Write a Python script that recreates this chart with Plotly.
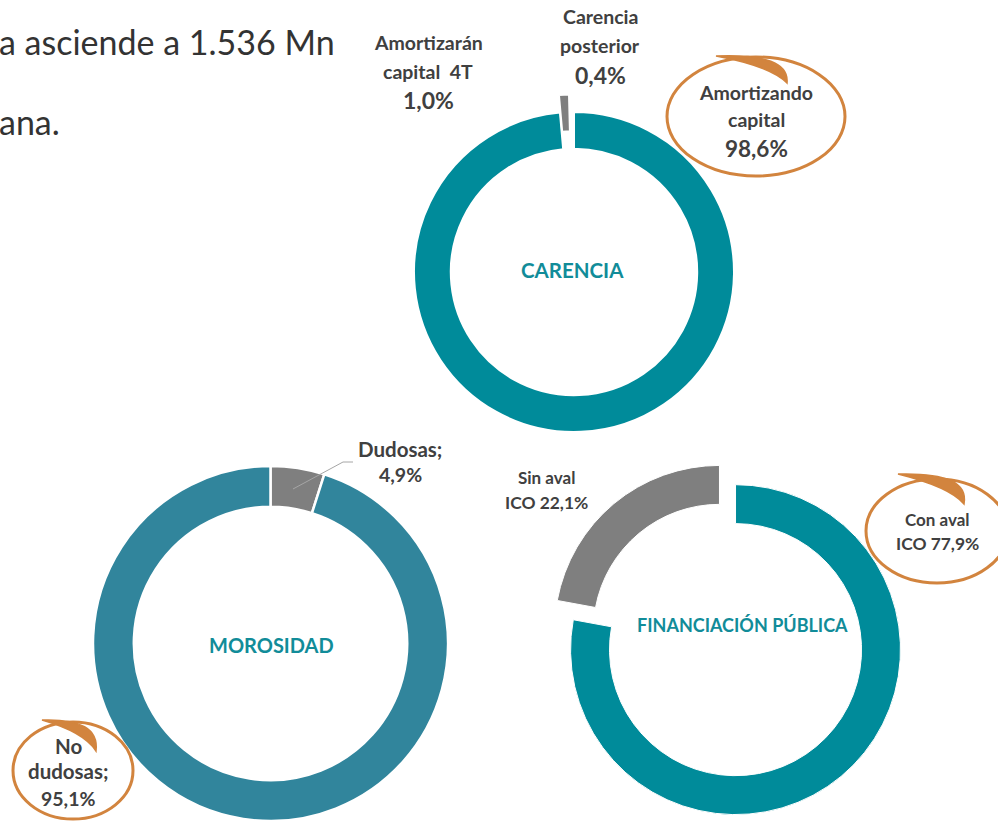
import plotly.graph_objects as go

W, H = 998, 821

# ---------------- data ----------------
carencia_labels = ["Amortizando capital", "Amortizarán capital 4T", "Carencia posterior"]
carencia_values = [98.6, 1.0, 0.4]

morosidad_labels = ["No dudosas", "Dudosas"]
morosidad_values = [95.1, 4.9]

financiacion_labels = ["Con aval ICO", "Sin aval ICO"]
financiacion_values = [77.9, 22.1]

TEAL = "#008B9A"
TEAL2 = "#31859C"
GRAY = "#7F7F7F"
ORANGE = "#D2843E"
TXT = "#404040"
FONT = "Lato"


def px(x):
    return x / W


def py(y):
    return 1 - y / H


def dom(cx, cy, half):
    return dict(x=[px(cx - half), px(cx + half)], y=[py(cy + half), py(cy - half)])


fig = go.Figure()

# CARENCIA donut
fig.add_trace(go.Pie(
    labels=carencia_labels, values=carencia_values, sort=False, direction="clockwise",
    rotation=0, hole=0.77, pull=[0, 0.11, 0],
    marker=dict(colors=[TEAL, GRAY, "#FFFFFF"], line=dict(color="white", width=2)),
    textinfo="none", domain=dom(574, 272, 160 * 1.11), showlegend=False,
))

# MOROSIDAD donut (gray slice first at 12 o'clock)
fig.add_trace(go.Pie(
    labels=morosidad_labels[::-1], values=morosidad_values[::-1], sort=False, direction="clockwise",
    rotation=0, hole=0.77,
    marker=dict(colors=[GRAY, TEAL2], line=dict(color="white", width=2.5)),
    textinfo="none", domain=dom(270.5, 643.5, 177.5), showlegend=False,
))

# FINANCIACIÓN PÚBLICA donut
fig.add_trace(go.Pie(
    labels=financiacion_labels, values=financiacion_values, sort=False, direction="clockwise",
    rotation=0, hole=0.764, pull=[0.076, 0.076],
    marker=dict(colors=[TEAL, GRAY], line=dict(color="white", width=1)),
    textinfo="none", domain=dom(727.5, 640, 177.5), showlegend=False,
))

annotations = []


def ann(text, x, y, size, bold=True, color=TXT, anchor="center"):
    t = f"<b>{text}</b>" if bold else text
    annotations.append(dict(
        text=t, x=px(x), y=py(y), xref="paper", yref="paper", showarrow=False,
        xanchor=anchor, yanchor="middle", font=dict(family=FONT, size=size, color=color),
    ))


# partial slide text
ann("a asciende a 1.536 Mn", -3, 41, 34, bold=False, color="#333333", anchor="left")
ann("ana.", -3, 121, 34, bold=False, color="#333333", anchor="left")

# Carencia labels
ann("Amortizarán", 428, 42, 19.5)
ann("capital  4T", 428, 71, 19.5)
ann("1,0%", 428, 100, 23)
ann("Carencia", 600, 17, 19.5)
ann("posterior", 600, 45, 19.5)
ann("0,4%", 600, 75, 23)
ann("Amortizando", 756, 92, 19.5)
ann("capital", 756, 120, 19.5)
ann("98,6%", 756, 149, 22.5)

# Morosidad labels
ann("Dudosas;", 400, 449, 20.5)
ann("4,9%", 400, 474, 19.5)
ann("No", 68, 746, 20.5)
ann("dudosas;", 68, 771, 20.5)
ann("95,1%", 68, 798, 19.5)

# Financiación labels
ann("Sin aval", 546, 477, 17)
ann("ICO 22,1%", 546, 502, 17.4)
ann("Con aval", 937, 519, 17)
ann("ICO 77,9%", 937, 543, 17.4)

# center titles
ann("CARENCIA", 572, 270, 20.5, color="#118C99")
ann("MOROSIDAD", 271, 645, 20, color="#118C99")
ann("FINANCIACIÓN PÚBLICA", 742, 625, 18, color="#118C99")

shapes = []


def ellipse(x0, y0, x1, y1):
    shapes.append(dict(type="circle", xref="paper", yref="paper",
                       x0=px(x0), x1=px(x1), y0=py(y1), y1=py(y0),
                       line=dict(color=ORANGE, width=3)))


def tail(A, B, C1, C2):
    p = (f"M {px(A[0])} {py(A[1])} Q {px(C1[0])} {py(C1[1])} {px(B[0])} {py(B[1])} "
         f"Q {px(C2[0])} {py(C2[1])} {px(A[0])} {py(A[1])} Z")
    shapes.append(dict(type="path", xref="paper", yref="paper", path=p,
                       fillcolor=ORANGE, line=dict(color=ORANGE, width=1.5)))


ellipse(667, 57, 845, 176)
tail((716, 56), (787, 83), (790, 53), (770, 66))
ellipse(866, 479, 1008, 583)
tail((898, 474), (964, 504), (970, 472), (950, 487))
ellipse(13, 722, 133, 819)
tail((42, 720), (96, 751), (100, 718), (84, 732))

# leader line for Dudosas
shapes.append(dict(type="path", xref="paper", yref="paper",
                   path=f"M {px(293)} {py(489)} L {px(343)} {py(462)} L {px(353)} {py(462)}",
                   line=dict(color="#A6A6A6", width=1)))

fig.update_layout(
    width=W, height=H, margin=dict(l=0, r=0, t=0, b=0),
    paper_bgcolor="white", plot_bgcolor="white",
    annotations=annotations, shapes=shapes, showlegend=False,
)

fig.write_html("out.html", config={"displayModeBar": False},
               post_script="document.body.style.margin='0px';document.body.style.overflow='hidden';")
